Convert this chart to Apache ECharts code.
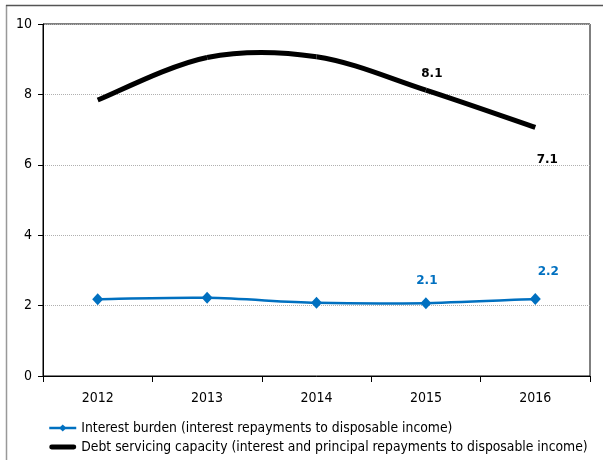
<!DOCTYPE html>
<html>
<head>
<meta charset="utf-8">
<script src="https://cdn.jsdelivr.net/npm/echarts@6/dist/echarts.min.js"></script>
<style>
html,body{margin:0;padding:0;background:#fff;}
#chart{width:603px;height:460px;}
</style>
</head>
<body>
<div id="chart"></div>
<script>
const categories = ['2012', '2013', '2014', '2015', '2016'];
const interestBurden = [2.18, 2.22, 2.08, 2.07, 2.19];
const debtServicing = [7.84, 9.05, 9.07, 8.12, 7.06];
const interestLabels = ['', '', '', '2.1', '2.2'];
const debtLabels = ['', '', '', '8.1', '7.1'];
const yTicks = [0, 2, 4, 6, 8, 10];
const seriesNames = [
  'Interest burden (interest repayments to disposable income)',
  'Debt servicing capacity (interest and principal repayments to disposable income)'
];

const FONT = 'DejaVu Sans Condensed';
const LABEL_FONT = 'DejaVu Sans';
const blue = '#0070C0';

const interestOffsets = [null, null, null, [1, -22], [13, -27]];
const debtOffsets = [null, null, null, [6, -16], [12, 32]];

// Smooth curve (Excel-style Bezier) drawn through the library's coordinate system
function curveSeries(values, color, width, labels, offsets, z) {
  return {
    type: 'custom',
    name: 'curve-' + color,
    silent: true,
    z: z,
    data: values.map((v, i) => [i, v]),
    encode: { x: 0, y: 1 },
    renderItem: function (params, api) {
      const i = params.dataIndex;
      const n = values.length;
      const pts = values.map((v, k) => api.coord([k, v]));
      const children = [];
      if (i < n - 1) {
        const p0 = pts[Math.max(i - 1, 0)], p1 = pts[i], p2 = pts[i + 1], p3 = pts[Math.min(i + 2, n - 1)];
        const c1 = [p1[0] + (p2[0] - p0[0]) / 6, p1[1] + (p2[1] - p0[1]) / 6];
        const c2 = [p2[0] - (p3[0] - p1[0]) / 6, p2[1] - (p3[1] - p1[1]) / 6];
        children.push({
          type: 'bezierCurve',
          shape: { x1: p1[0], y1: p1[1], x2: p2[0], y2: p2[1], cpx1: c1[0], cpy1: c1[1], cpx2: c2[0], cpy2: c2[1] },
          style: { stroke: color, lineWidth: width, fill: null, lineCap: 'butt' }
        });
      }
      if (labels && labels[i]) {
        const p = pts[i];
        children.push({
          type: 'text',
          x: p[0] + offsets[i][0],
          y: p[1] + offsets[i][1],
          style: {
            text: labels[i],
            fill: color,
            fontFamily: LABEL_FONT,
            fontWeight: 'bold',
            fontSize: 12,
            align: 'center',
            verticalAlign: 'middle'
          }
        });
      }
      return { type: 'group', children: children };
    }
  };
}

function buildData(values, labels, offsets, color) {
  return values.map((v, i) => {
    const item = { value: v };
    if (labels[i]) {
      item.label = {
        show: true,
        formatter: labels[i],
        position: 'inside',
        offset: offsets[i],
        color: color,
        fontFamily: LABEL_FONT,
        fontWeight: 'bold',
        fontSize: 12
      };
    }
    return item;
  });
}

const chart = echarts.init(document.getElementById('chart'), null, { renderer: 'canvas' });
chart.setOption({
  animation: false,
  backgroundColor: '#fff',
  graphic: [
    { type: 'line', shape: { x1: 6.5, y1: 5, x2: 6.5, y2: 460 }, style: { stroke: '#999', lineWidth: 1.5 } },
    { type: 'line', shape: { x1: 6, y1: 5.5, x2: 603, y2: 5.5 }, style: { stroke: '#555', lineWidth: 1.5 } }
  ],
  grid: {
    left: 43, right: 13, top: 24, bottom: 84,
    show: true, borderColor: '#000', borderWidth: 1, backgroundColor: 'transparent'
  },
  legend: {
    orient: 'vertical',
    left: 48,
    top: 421,
    padding: 0,
    itemGap: 5,
    itemWidth: 27,
    itemHeight: 9,
    textStyle: { fontFamily: FONT, fontSize: 13.8, color: '#000' },
    lineStyle: { opacity: 1 },
    data: [
      { name: seriesNames[0], lineStyle: { opacity: 1, width: 2.5, color: blue } },
      { name: seriesNames[1], icon: 'path://M2.5,0 H25.5 A2.5,2.5 0 0 1 25.5,5 H2.5 A2.5,2.5 0 0 1 2.5,0 Z', itemStyle: { color: '#000' } }
    ]
  },
  xAxis: {
    type: 'category',
    data: categories,
    boundaryGap: true,
    axisLine: { lineStyle: { color: '#000', width: 1 } },
    axisTick: { show: true, length: 6, lineStyle: { color: '#000' } },
    axisLabel: { fontFamily: FONT, fontSize: 14, color: '#000', margin: 15 },
    splitLine: { show: false }
  },
  yAxis: {
    type: 'value',
    min: 0, max: 10, interval: 2,
    axisLine: { show: true, lineStyle: { color: '#000', width: 1 } },
    axisTick: { show: true, length: 5, lineStyle: { color: '#000' } },
    axisLabel: {
      fontFamily: FONT, fontSize: 14, color: '#000', margin: 11,
      formatter: v => (yTicks.indexOf(v) >= 0 ? String(v) : '')
    },
    splitLine: { show: true, lineStyle: { color: '#b0b0b0', type: 'dotted', width: 1 } }
  },
  series: [
    curveSeries(debtServicing, '#000', 5, debtLabels, debtOffsets, 2),
    curveSeries(interestBurden, blue, 2.5, null, null, 2),
    {
      name: seriesNames[0],
      type: 'line',
      data: buildData(interestBurden, interestLabels, interestOffsets, blue),
      symbol: 'diamond',
      symbolSize: [11, 12],
      itemStyle: { color: blue },
      lineStyle: { color: blue, width: 2.5, opacity: 0 },
      z: 3
    },
    {
      name: seriesNames[1],
      type: 'line',
      data: debtServicing,
      symbol: 'none',
      itemStyle: { color: '#000' },
      lineStyle: { color: '#000', width: 5, opacity: 0 },
      z: 3
    }
  ]
});
</script>
</body>
</html>
